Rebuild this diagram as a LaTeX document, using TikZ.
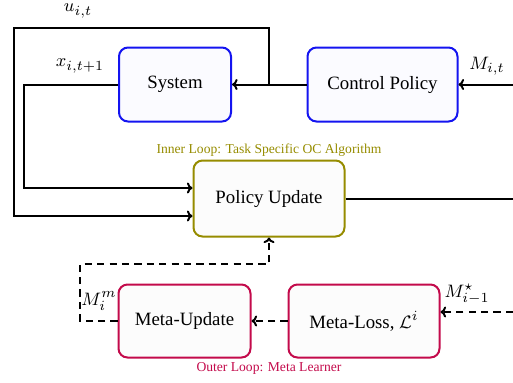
\documentclass[tikz,border=0pt]{standalone}
\usepackage{fontspec}
\setmainfont{Liberation Serif}
\usetikzlibrary{arrows.meta}
\definecolor{bluebox}{RGB}{20,20,240}
\definecolor{olivebox}{RGB}{150,140,0}
\definecolor{crimsonbox}{RGB}{195,10,75}
\tikzset{
  blk/.style={draw, line width=1pt, rounded corners=4.5pt, align=center, inner sep=0pt,
    font=\fontsize{9.4}{11}\selectfont},
  bluebx/.style={blk, draw=bluebox, fill=blue!1.5},
  olivebx/.style={blk, draw=olivebox, fill=black!1},
  crimbx/.style={blk, draw=crimsonbox, fill=black!1},
  conn/.style={line width=1pt, -{To[length=2.8pt,width=5.5pt]}},
  plain/.style={line width=1pt},
  dconn/.style={conn, dash pattern=on 3.6pt off 2.6pt},
  lbl/.style={font=\fontsize{9.4}{11}\selectfont, inner sep=0pt},
  captxt/.style={font=\fontsize{6.8}{8}\selectfont, inner sep=0pt}
}
\begin{document}
\begin{tikzpicture}[x=0.5pt,y=-0.5pt]
\useasboundingbox (0,0) rectangle (513,382);
\node[bluebx, minimum width=56pt, minimum height=37pt] (sys) at (175,84.5) {System};
\node[bluebx, minimum width=75pt, minimum height=37pt] (cp) at (382.5,84.5) {Control Policy};
\node[olivebx, minimum width=75.5pt, minimum height=38pt] (pu) at (269,198.5) {Policy Update};
\node[crimbx, minimum width=66pt, minimum height=36.5pt] (mu) at (184.5,321) {Meta-Update};
\node[crimbx, minimum width=75.5pt, minimum height=36.5pt] (ml) at (364,321) {Meta-Loss, $\mathcal{L}^i$};

\node[captxt, text=olivebox] (inner) at (269,150) {Inner Loop: Task Specific OC Algorithm};
\node[captxt, text=crimsonbox] (outer) at (269,368) {Outer Loop: Meta Learner};

\coordinate (rin) at (513,84.5);
\coordinate (rout) at (513,198.5);
\coordinate (rmeta) at (513,312);
\coordinate (j) at (269,84.5);

\draw[conn] (rin) -- (cp.east);
\draw[conn] (cp.west) -- (sys.east);
\draw[conn] (j) -- (269,28) -- (14,28) -- (14,216) -- (pu.west |- 0,216);
\draw[conn] (sys.west) -- (24,84.5) -- (24,188) -- (pu.west |- 0,188);
\draw[plain] (pu.east) -- (rout);
\draw[dconn] (ml.west) -- (mu.east);
\draw[dconn] (mu.west) -- (80,321) -- (80,264) -- (269,264) -- (pu.south);
\draw[dconn] (rmeta) -- (ml.east |- 0,312);

\node[lbl] (ulab) at (78,11) {$u_{i,t}$};
\node[lbl] (xlab) at (80,66) {$x_{i,t+1}$};
\node[lbl] (mlab) at (487,66) {$M_{i,t}$};
\node[lbl] (mmlab) at (99,301) {$M_i^m$};
\node[lbl] (mslab) at (467,294) {$M_{i-1}^{\star}$};
\end{tikzpicture}
\end{document}
